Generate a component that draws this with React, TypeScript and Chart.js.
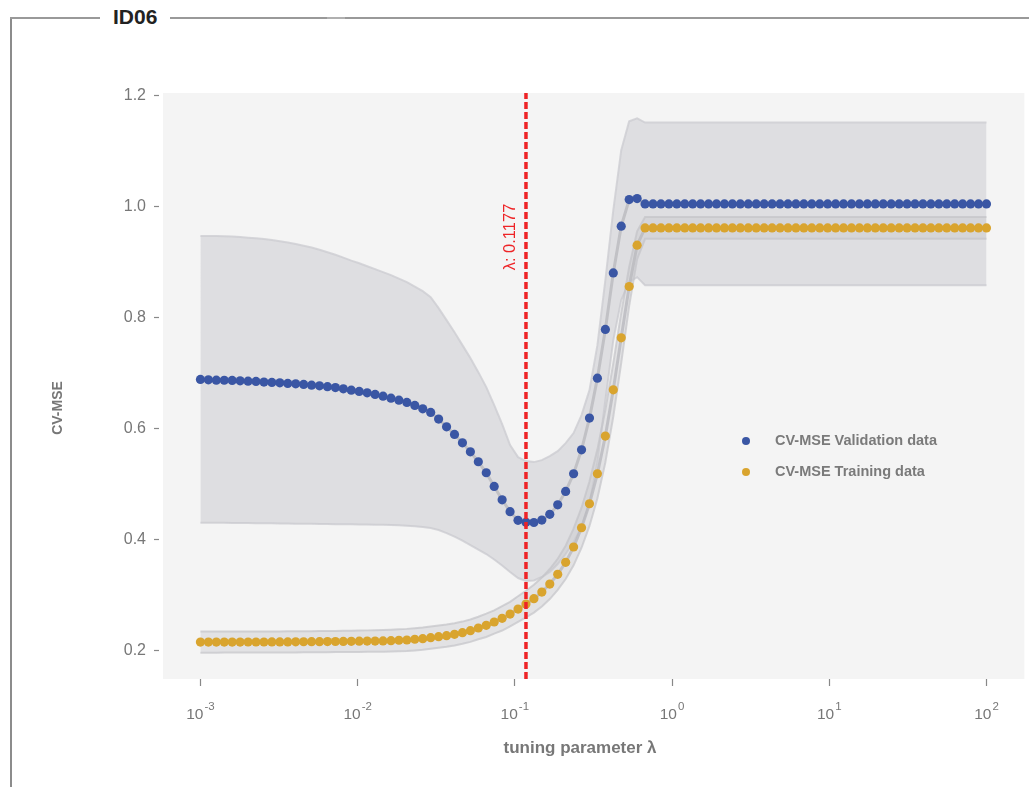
import React, { useEffect, useRef } from "react";
import { Chart, registerables } from "chart.js";

Chart.register(...registerables);

// lambda grid: 100 log-spaced tuning values from 1e-3 to 1e2
const lambdaLogStart = -3;
const lambdaLogEnd = 2;
const lambdaCount = 100;
const lambdas = Array.from({ length: lambdaCount }, (_, i) =>
  Math.pow(10, lambdaLogStart + ((lambdaLogEnd - lambdaLogStart) * i) / (lambdaCount - 1))
);

const cvValidation = [
  0.6886, 0.6880, 0.6874, 0.6872, 0.6868, 0.6862, 0.6856, 0.6850, 0.6840, 0.6832,
  0.6825, 0.6815, 0.6807, 0.6796, 0.6784, 0.6771, 0.6756, 0.6740, 0.6718, 0.6694,
  0.6671, 0.6646, 0.6617, 0.6586, 0.6550, 0.6514, 0.6473, 0.6419, 0.6358, 0.6293,
  0.6173, 0.6034, 0.5897, 0.5746, 0.5584, 0.5405, 0.5207, 0.4962, 0.4721, 0.4507,
  0.4351, 0.4315, 0.4312, 0.4356, 0.4459, 0.4631, 0.4872, 0.5189, 0.5620, 0.6191,
  0.6910, 0.7786, 0.8804, 0.9644, 1.0124, 1.0142, 1.0045, 1.0045, 1.0045, 1.0045,
  1.0045, 1.0045, 1.0045, 1.0045, 1.0045, 1.0045, 1.0045, 1.0045, 1.0045, 1.0045,
  1.0045, 1.0045, 1.0045, 1.0045, 1.0045, 1.0045, 1.0045, 1.0045, 1.0045, 1.0045,
  1.0045, 1.0045, 1.0045, 1.0045, 1.0045, 1.0045, 1.0045, 1.0045, 1.0045, 1.0045,
  1.0045, 1.0045, 1.0045, 1.0045, 1.0045, 1.0045, 1.0045, 1.0045, 1.0045, 1.0045,
];

const cvTraining = [
  0.2160, 0.2160, 0.2160, 0.2161, 0.2161, 0.2161, 0.2162, 0.2162, 0.2162, 0.2163,
  0.2163, 0.2164, 0.2165, 0.2166, 0.2167, 0.2168, 0.2169, 0.2171, 0.2172, 0.2174,
  0.2176, 0.2178, 0.2179, 0.2182, 0.2186, 0.2193, 0.2198, 0.2211, 0.2221, 0.2239,
  0.2257, 0.2275, 0.2300, 0.2329, 0.2365, 0.2414, 0.2462, 0.2522, 0.2588, 0.2665,
  0.2755, 0.2845, 0.2941, 0.3061, 0.3205, 0.3380, 0.3595, 0.3871, 0.4218, 0.4650,
  0.5189, 0.5867, 0.6700, 0.7635, 0.8559, 0.9302, 0.9613, 0.9613, 0.9613, 0.9613,
  0.9613, 0.9613, 0.9613, 0.9613, 0.9613, 0.9613, 0.9613, 0.9613, 0.9613, 0.9613,
  0.9613, 0.9613, 0.9613, 0.9613, 0.9613, 0.9613, 0.9613, 0.9613, 0.9613, 0.9613,
  0.9613, 0.9613, 0.9613, 0.9613, 0.9613, 0.9613, 0.9613, 0.9613, 0.9613, 0.9613,
  0.9613, 0.9613, 0.9613, 0.9613, 0.9613, 0.9613, 0.9613, 0.9613, 0.9613, 0.9613,
];

const cvValidationUpper = [
  0.9469, 0.9468, 0.9466, 0.9464, 0.9459, 0.9450, 0.9437, 0.9426, 0.9412, 0.9394,
  0.9374, 0.9349, 0.9324, 0.9293, 0.9261, 0.9221, 0.9176, 0.9129, 0.9079, 0.9025,
  0.8978, 0.8924, 0.8871, 0.8817, 0.8763, 0.8700, 0.8637, 0.8556, 0.8475, 0.8367,
  0.8169, 0.7953, 0.7737, 0.7504, 0.7270, 0.7018, 0.6748, 0.6424, 0.6083, 0.5705,
  0.5489, 0.5417, 0.5399, 0.5435, 0.5507, 0.5597, 0.5741, 0.5921, 0.6245, 0.6694,
  0.7504, 0.8673, 0.9932, 1.1011, 1.1532, 1.1586, 1.1509, 1.1509, 1.1509, 1.1509,
  1.1509, 1.1509, 1.1509, 1.1509, 1.1509, 1.1509, 1.1509, 1.1509, 1.1509, 1.1509,
  1.1509, 1.1509, 1.1509, 1.1509, 1.1509, 1.1509, 1.1509, 1.1509, 1.1509, 1.1509,
  1.1509, 1.1509, 1.1509, 1.1509, 1.1509, 1.1509, 1.1509, 1.1509, 1.1509, 1.1509,
  1.1509, 1.1509, 1.1509, 1.1509, 1.1509, 1.1509, 1.1509, 1.1509, 1.1509, 1.1509,
];

const cvValidationLower = [
  0.4308, 0.4308, 0.4306, 0.4306, 0.4304, 0.4302, 0.4302, 0.4300, 0.4299, 0.4297,
  0.4295, 0.4293, 0.4291, 0.4290, 0.4288, 0.4286, 0.4284, 0.4282, 0.4281, 0.4279,
  0.4277, 0.4275, 0.4273, 0.4272, 0.4266, 0.4261, 0.4254, 0.4243, 0.4230, 0.4212,
  0.4176, 0.4122, 0.4059, 0.3987, 0.3906, 0.3825, 0.3745, 0.3646, 0.3538, 0.3421,
  0.3313, 0.3259, 0.3268, 0.3331, 0.3421, 0.3565, 0.3745, 0.3960, 0.4230, 0.4662,
  0.5399, 0.6515, 0.7594, 0.8313, 0.8637, 0.8727, 0.8583, 0.8583, 0.8583, 0.8583,
  0.8583, 0.8583, 0.8583, 0.8583, 0.8583, 0.8583, 0.8583, 0.8583, 0.8583, 0.8583,
  0.8583, 0.8583, 0.8583, 0.8583, 0.8583, 0.8583, 0.8583, 0.8583, 0.8583, 0.8583,
  0.8583, 0.8583, 0.8583, 0.8583, 0.8583, 0.8583, 0.8583, 0.8583, 0.8583, 0.8583,
  0.8583, 0.8583, 0.8583, 0.8583, 0.8583, 0.8583, 0.8583, 0.8583, 0.8583, 0.8583,
];

const cvTrainingUpper = [
  0.2350, 0.2350, 0.2350, 0.2351, 0.2351, 0.2351, 0.2352, 0.2352, 0.2352, 0.2353,
  0.2353, 0.2354, 0.2355, 0.2356, 0.2357, 0.2358, 0.2360, 0.2362, 0.2364, 0.2366,
  0.2368, 0.2371, 0.2373, 0.2377, 0.2382, 0.2390, 0.2398, 0.2411, 0.2421, 0.2439,
  0.2457, 0.2475, 0.2500, 0.2529, 0.2566, 0.2616, 0.2672, 0.2732, 0.2808, 0.2885,
  0.2985, 0.3085, 0.3191, 0.3321, 0.3475, 0.3660, 0.3895, 0.4201, 0.4578, 0.5050,
  0.5629, 0.6337, 0.7180, 0.8085, 0.8909, 0.9552, 0.9808, 0.9808, 0.9808, 0.9808,
  0.9808, 0.9808, 0.9808, 0.9808, 0.9808, 0.9808, 0.9808, 0.9808, 0.9808, 0.9808,
  0.9808, 0.9808, 0.9808, 0.9808, 0.9808, 0.9808, 0.9808, 0.9808, 0.9808, 0.9808,
  0.9808, 0.9808, 0.9808, 0.9808, 0.9808, 0.9808, 0.9808, 0.9808, 0.9808, 0.9808,
  0.9808, 0.9808, 0.9808, 0.9808, 0.9808, 0.9808, 0.9808, 0.9808, 0.9808, 0.9808,
];

const cvTrainingLower = [
  0.1970, 0.1970, 0.1970, 0.1971, 0.1971, 0.1971, 0.1972, 0.1972, 0.1972, 0.1973,
  0.1973, 0.1974, 0.1975, 0.1976, 0.1977, 0.1978, 0.1978, 0.1980, 0.1980, 0.1982,
  0.1984, 0.1985, 0.1985, 0.1987, 0.1990, 0.1996, 0.1998, 0.2011, 0.2021, 0.2039,
  0.2057, 0.2075, 0.2100, 0.2129, 0.2164, 0.2212, 0.2252, 0.2312, 0.2368, 0.2445,
  0.2525, 0.2605, 0.2691, 0.2801, 0.2935, 0.3100, 0.3295, 0.3541, 0.3858, 0.4250,
  0.4749, 0.5397, 0.6220, 0.7185, 0.8209, 0.9052, 0.9418, 0.9418, 0.9418, 0.9418,
  0.9418, 0.9418, 0.9418, 0.9418, 0.9418, 0.9418, 0.9418, 0.9418, 0.9418, 0.9418,
  0.9418, 0.9418, 0.9418, 0.9418, 0.9418, 0.9418, 0.9418, 0.9418, 0.9418, 0.9418,
  0.9418, 0.9418, 0.9418, 0.9418, 0.9418, 0.9418, 0.9418, 0.9418, 0.9418, 0.9418,
  0.9418, 0.9418, 0.9418, 0.9418, 0.9418, 0.9418, 0.9418, 0.9418, 0.9418, 0.9418,
];

const bestLambda = 0.1177;
const bestLambdaLabel = "λ: 0.1177";
const xTickValues = [1e-3, 1e-2, 1e-1, 1, 10, 100];
const xTickExponents = ["-3", "-2", "-1", "0", "1", "2"];
const yTickValues = [0.2, 0.4, 0.6, 0.8, 1.0, 1.2];
const xRange = [5.78e-4, 174.3];
const yRange = [0.1496, 1.2041];
const seriesNames = ["CV-MSE Validation data", "CV-MSE Training data"];
const xTitle = "tuning parameter λ";
const yTitle = "CV-MSE";
const panelTitle = "ID06";

const BLUE = "#3a56a4";
const GOLD = "#d9a42e";
const RED = "#ee2326";
const FONT = "'Liberation Sans', Arial, Helvetica, sans-serif";

const pts = (vals: number[]) => lambdas.map((x, i) => ({ x, y: vals[i] }));

export default function App() {
  const ref = useRef<HTMLCanvasElement | null>(null);

  useEffect(() => {
    if (!ref.current) return;

    const decor = {
      id: "decor",
      beforeDraw(chart: any) {
        const { ctx, chartArea } = chart;
        ctx.save();
        ctx.fillStyle = "#f4f4f4";
        ctx.fillRect(chartArea.left, chartArea.top, chartArea.right - chartArea.left, chartArea.bottom - chartArea.top);
        ctx.restore();
      },
      afterDraw(chart: any) {
        const { ctx } = chart;
        const xs = chart.scales.x;
        ctx.save();
        // x tick labels with superscript exponents
        ctx.fillStyle = "#777";
        ctx.textBaseline = "alphabetic";
        ctx.textAlign = "left";
        xTickValues.forEach((v, k) => {
          const px = xs.getPixelForValue(v);
          ctx.font = `15.5px ${FONT}`;
          const wb = ctx.measureText("10").width;
          ctx.font = `11.5px ${FONT}`;
          const we = ctx.measureText(xTickExponents[k]).width;
          const start = px - (wb + we + 1) / 2;
          ctx.font = `15.5px ${FONT}`;
          ctx.fillText("10", start, 719);
          ctx.font = `11.5px ${FONT}`;
          ctx.fillText(xTickExponents[k], start + wb + 1, 710);
        });
        // axis titles
        ctx.fillStyle = "#777";
        ctx.font = `bold 17px ${FONT}`;
        ctx.textAlign = "center";
        ctx.fillText(xTitle, 580, 753);
        ctx.save();
        ctx.translate(62, 408);
        ctx.rotate(-Math.PI / 2);
        ctx.font = `bold 14px ${FONT}`;
        ctx.fillText(yTitle, 0, 0);
        ctx.restore();
        // lambda label
        const lx = xs.getPixelForValue(bestLambda);
        ctx.save();
        ctx.translate(lx - 10.5, 237);
        ctx.rotate(-Math.PI / 2);
        ctx.fillStyle = RED;
        ctx.font = `16.5px ${FONT}`;
        ctx.textAlign = "center";
        ctx.fillText(bestLambdaLabel, 0, 0);
        ctx.restore();
        // legend
        const colors = [BLUE, GOLD];
        const rows = [441, 472];
        seriesNames.forEach((name, k) => {
          ctx.fillStyle = colors[k];
          ctx.beginPath();
          ctx.arc(746, rows[k], 4, 0, Math.PI * 2);
          ctx.fill();
          ctx.fillStyle = "#7a7a7a";
          ctx.font = `bold 14.5px ${FONT}`;
          ctx.textAlign = "left";
          ctx.textBaseline = "middle";
          ctx.fillText(name, 775, rows[k]);
        });
        ctx.restore();
      },
    };

    const dots = (vals: number[], color: string) => ({
      data: pts(vals),
      showLine: false,
      pointRadius: 4.6,
      pointHoverRadius: 4.6,
      pointBorderWidth: 0,
      pointBackgroundColor: color,
      borderColor: color,
      fill: false,
    });
    const greyLine = (vals: number[], fill: any, color: string, width: number, bg: string) => ({
      data: pts(vals),
      pointRadius: 0,
      borderColor: color,
      borderWidth: width,
      backgroundColor: bg,
      fill,
      tension: 0,
    });

    const chart = new Chart(ref.current, {
      type: "line",
      data: {
        datasets: [
          {
            data: [
              { x: bestLambda, y: yRange[0] },
              { x: bestLambda, y: yRange[1] },
            ],
            borderColor: RED,
            borderWidth: 3.5,
            borderDash: [7, 3],
            pointRadius: 0,
            fill: false,
          },
          dots(cvValidation, BLUE),
          dots(cvTraining, GOLD),
          greyLine(cvValidation, false, "rgba(185,185,190,0.8)", 3, "transparent"),
          greyLine(cvTraining, false, "rgba(185,185,190,0.8)", 3, "transparent"),
          greyLine(cvTrainingUpper, "+1", "rgba(195,195,200,0.7)", 2, "rgba(200,200,205,0.42)"),
          greyLine(cvTrainingLower, false, "rgba(195,195,200,0.7)", 2, "transparent"),
          greyLine(cvValidationUpper, "+1", "rgba(205,205,210,0.8)", 2, "rgba(200,200,205,0.5)"),
          greyLine(cvValidationLower, false, "rgba(205,205,210,0.8)", 2, "transparent"),
        ] as any,
      },
      options: {
        responsive: false,
        animation: false,
        devicePixelRatio: 1,
        layout: { padding: { left: 113, top: 93, right: 3, bottom: 48 } },
        plugins: { legend: { display: false }, tooltip: { enabled: false } },
        events: [],
        scales: {
          x: {
            type: "logarithmic",
            min: xRange[0],
            max: xRange[1],
            afterBuildTicks: (s: any) => {
              s.ticks = xTickValues.map((v) => ({ value: v }));
            },
            afterFit: (s: any) => {
              s.height = 60;
            },
            ticks: { display: false },
            grid: { drawOnChartArea: false, drawTicks: true, tickLength: 7, color: "#888", tickWidth: 1.2 },
            border: { display: false },
          },
          y: {
            type: "linear",
            min: yRange[0],
            max: yRange[1],
            afterBuildTicks: (s: any) => {
              s.ticks = yTickValues.map((v) => ({ value: v }));
            },
            afterFit: (s: any) => {
              s.width = 50;
            },
            ticks: {
              color: "#777",
              font: { size: 16, family: FONT },
              padding: 8,
              callback: (v: any) => Number(v).toFixed(1),
            },
            grid: {
              drawOnChartArea: false,
              drawTicks: true,
              tickLength: 9,
              tickBorderDash: [5, 10],
              color: "#888",
              tickWidth: 1.2,
            },
            border: { display: false },
          },
        },
      } as any,
      plugins: [decor],
    });

    return () => chart.destroy();
  }, []);

  return (
    <div
      style={{
        position: "absolute",
        left: 0,
        top: 0,
        width: 1029,
        height: 787,
        overflow: "hidden",
        background: "#fff",
      }}
    >
      <div style={{ position: "absolute", left: 10, top: 17, width: 2, height: 770, background: "#8c8c8c" }} />
      <div style={{ position: "absolute", left: 10, top: 17, width: 90, height: 2, background: "#999" }} />
      <div style={{ position: "absolute", left: 170, top: 17, width: 859, height: 2, background: "#999" }} />
      <div style={{ position: "absolute", left: 327, top: 17, width: 18, height: 2, background: "#b0b0b0" }} />
      <div
        style={{
          position: "absolute",
          left: 113,
          top: 6,
          font: `bold 21px ${FONT}`,
          lineHeight: 1,
          color: "#222",
          whiteSpace: "nowrap",
        }}
      >
        {panelTitle}
      </div>
      <canvas
        ref={ref}
        width={1029}
        height={787}
        style={{ position: "absolute", left: 0, top: 0, width: 1029, height: 787 }}
      />
    </div>
  );
}
